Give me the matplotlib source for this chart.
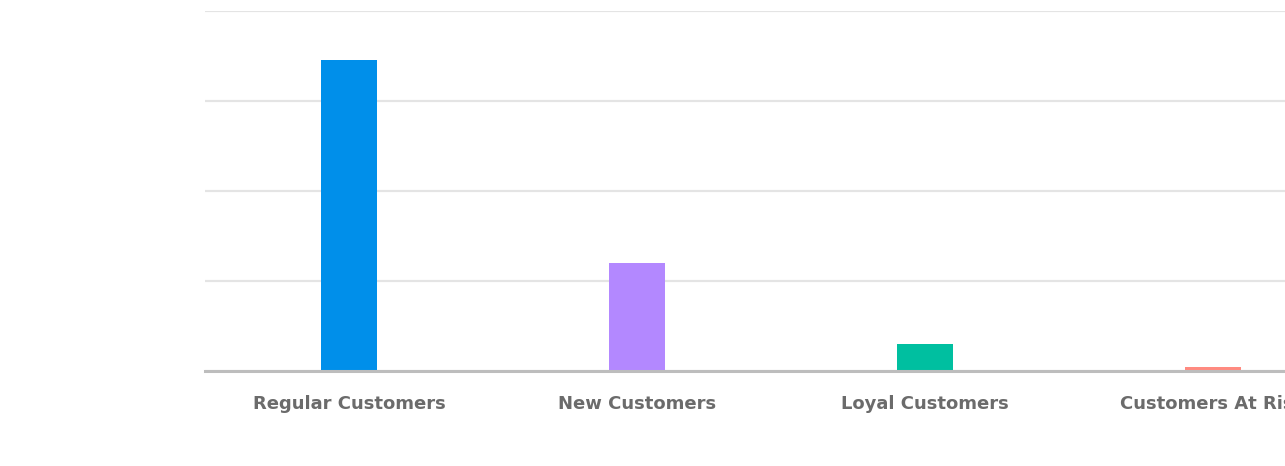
import matplotlib.pyplot as plt

categories = ['Regular Customers', 'New Customers', 'Loyal Customers', 'Customers At Risk']
values = [3455, 1200, 300, 50]
colors = ['#008FEA', '#B388FF', '#00BFA0', '#FF8A80']
grid_ticks = [0, 1000, 2000, 3000, 4000]

fig = plt.figure(figsize=(12.85, 4.66), dpi=100)
# axes runs past the right edge, as in the cropped reference
ax = fig.add_axes([205 / 1285, 1 - 371 / 466, 1152 / 1285, 360 / 466])

x = range(len(categories))
ax.bar(x, values, width=0.195, color=colors, zorder=3)

ax.set_xlim(-0.5, len(categories) - 0.5)
ax.set_ylim(0, 4000)
ax.set_yticks(grid_ticks)
ax.set_yticklabels([])
ax.tick_params(axis='y', length=0)
ax.grid(axis='y', color='#e4e4e4', linewidth=1.6, zorder=0)

ax.set_xticks(list(x))
ax.set_xticklabels(categories, fontsize=13, fontweight='bold', color='#6b6b6b',
                   family=['DejaVu Sans'])
ax.tick_params(axis='x', length=0, pad=17)

for side in ['top', 'left', 'right']:
    ax.spines[side].set_visible(False)
ax.spines['bottom'].set_color('#bdbdbd')
ax.spines['bottom'].set_linewidth(2.2)
ax.spines['bottom'].set_zorder(4)

fig.savefig('out.png', dpi=100)
